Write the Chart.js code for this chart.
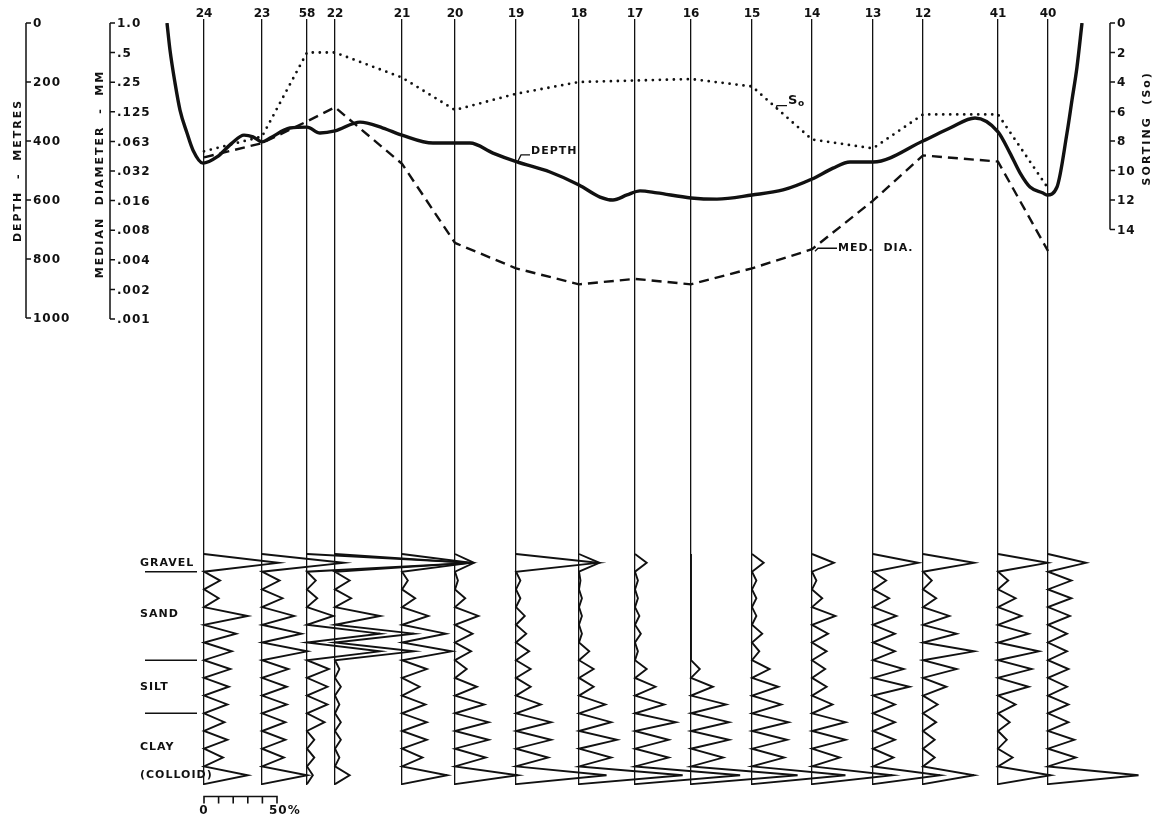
<!DOCTYPE html>
<html lang="en">
<head>
<meta charset="UTF-8">
<title>Traverse - depth, median diameter, sorting</title>
<script src="https://cdn.jsdelivr.net/npm/chart.js"></script>
<style>
  body {
    margin: 0;
    padding: 0;
    background: #fff;
  }
  .wrap {
    position: relative;
    width: 1159px;
    height: 826px;
  }
</style>
</head>
<body>
<div class="wrap">
  <canvas id="traverse" width="1159" height="826"></canvas>
</div>
<script>
// stations along the traverse, as numbered on the section
const stations = ['24', '23', '58', '22', '21', '20', '19', '18', '17', '16', '15', '14', '13', '12', '41', '40'];
// distance along the traverse (arbitrary units, measured off the section)
const stationPos = [0, 5.8, 10.3, 13.1, 19.8, 25.1, 31.2, 37.5, 43.1, 48.7, 54.8, 60.8, 66.9, 71.9, 79.4, 84.4];

// median diameter (mm) and sorting coefficient (So) at each station
const medDia = [0.043, 0.060, 0.100, 0.139, 0.037, 0.0058, 0.0032, 0.0022, 0.0025, 0.0022, 0.0032, 0.0050, 0.0156, 0.045, 0.039, 0.0048];
const sorting = [8.7, 7.7, 2.0, 2.0, 3.7, 5.9, 4.8, 4.0, 3.9, 3.8, 4.3, 7.9, 8.5, 6.2, 6.2, 11.2];

// bottom profile (depth in metres)
const depthPos = [-3.7, -3.4, -2.9, -2.4, -1.7, -1.1, -0.1, 1.3, 2.8, 4.0, 4.9, 5.8, 6.6, 8.6, 10.3, 11.6, 13.1, 15.6, 17.9, 19.8,
  22.9, 26.6, 28.9, 31.3, 34.6, 37.5, 39.6, 40.9, 42.3, 43.6, 45.3, 48.7, 51.3, 54.8, 57.9, 60.8, 62.9, 64.6, 66.9, 71.9,
  74.6, 77.1, 79.4, 80.6, 81.6, 82.6, 83.9, 84.3, 85.3, 86.3, 86.8, 87.3, 87.8];
const depthM = [0, 92, 203, 295, 373, 431, 475, 454, 407, 380, 386, 403, 390, 356, 353, 373, 366, 336, 356, 380,
  407, 407, 441, 471, 505, 549, 590, 600, 583, 569, 576, 593, 597, 583, 566, 529, 492, 471, 471, 400,
  356, 322, 369, 441, 508, 556, 576, 583, 556, 373, 261, 149, 0];

// grain size frequency (%), gravel, 5 sand, 3 silt, 3 clay grades, colloid
const g24 = [51, 11, 10, 30, 22, 19, 18, 17, 16, 14, 16, 13, 30];
const g23 = [56, 12, 14, 22, 27, 31, 18, 17, 17, 16, 16, 15, 31];
const g58 = [113, 6, 7, 18, 50, 50, 15, 14, 14, 12, 5, 5, 4];
const g22 = [92, 10, 11, 31, 54, 54, 3, 4, 3, 4, 4, 3, 10];
const g21 = [47, 4, 9, 18, 30, 34, 17, 12, 16, 17, 17, 14, 31];
const g20 = [13, 2, 7, 16, 12, 11, 8, 15, 20, 23, 23, 21, 43];
const g19 = [56, 3, 3, 6, 7, 9, 10, 10, 17, 24, 24, 22, 62];
const g18 = [14, 1, 2, 2, 2, 7, 10, 10, 18, 22, 26, 22, 71];
const g17 = [8, 2, 2, 3, 4, 2, 8, 14, 20, 28, 23, 23, 72];
const g16 = [0, 0, 0, 0, 0, 0, 6, 15, 24, 26, 26, 22, 73];
const g15 = [8, 3, 3, 3, 7, 5, 12, 18, 20, 25, 24, 22, 64];
const g14 = [15, 3, 7, 16, 11, 10, 9, 10, 14, 23, 23, 19, 55];
const g13 = [31, 9, 11, 16, 15, 15, 21, 25, 15, 15, 15, 14, 46];
const g12 = [35, 6, 9, 18, 23, 35, 23, 16, 10, 9, 8, 8, 35];
const g41 = [34, 7, 12, 16, 21, 28, 23, 21, 12, 8, 6, 10, 36];
const g40 = [26, 16, 16, 15, 13, 13, 14, 13, 14, 14, 18, 19, 62];
const grainPct = [g24, g23, g58, g22, g21, g20, g19, g18, g17, g16, g15, g14, g13, g12, g41, g40];

const gradeLabels = ['GRAVEL', 'SAND', 'SILT', 'CLAY', '(COLLOID)'];
const gradeLabelRow = [0, 2.9, 7.0, 10.4, 12.0];
const gradeBreaks = [0.5, 5.5, 8.5];
const scaleBarPct = [0, 10, 20, 30, 40, 50];

// axis ticks
const depthTicks = [0, 200, 400, 600, 800, 1000];
const diaTicks = [1, 0.5, 0.25, 0.125, 0.0625, 0.03125, 0.015625, 0.0078125, 0.00390625, 0.001953125, 0.0009765625];
const diaTickLabels = ['1.0', '.5', '.25', '.125', '.063', '.032', '.016', '.008', '.004', '.002', '.001'];
const sortTicks = [0, 2, 4, 6, 8, 10, 12, 14];

// layout
const INK = '#111';
const FAMILY = '"DejaVu Sans", Arial, sans-serif';
const PANEL_H = 295;        // px from top of plot to 1000 m / .001 mm
const AREA_H = 762;         // px of the whole plot area
const K = AREA_H / PANEL_H;
const ROW_H = 17.7;         // px per grain size grade
const HIST_TOP = 30.5;      // grade rows between plot top and the gravel row
const PCT_UNIT = 0.146;     // traverse units per percent
const AXIS_X = { depth: -17.8, dia: -9.4, sort: 90.6 };
const TITLE_X = { depth: -18.6, dia: -10.4, sort: 94.3 };
const LABEL_X = -6.4;
const BREAK_X = [-5.9, -0.7];
const TICK = 5;

function zigzag(pos, pct) {
  const pts = [{ x: pos, y: -0.5 }];
  pct.forEach((v, i) => {
    pts.push({ x: pos + v * PCT_UNIT, y: i });
    pts.push({ x: pos, y: i + 0.5 });
  });
  return pts;
}

// horizontal bar with ticks hanging down
function scaleBar(pos) {
  const pts = [];
  scaleBarPct.forEach((p) => {
    const xv = pos + p * PCT_UNIT;
    pts.push({ x: xv, y: 13.2 }, { x: xv, y: 13.6 }, { x: xv, y: 13.2 });
  });
  return pts;
}

const datasets = [];

datasets.push({
  label: 'Depth',
  data: depthPos.map((x, i) => ({ x: x, y: depthM[i] })),
  yAxisID: 'yDepth',
  borderColor: INK,
  borderWidth: 3.4,
  cubicInterpolationMode: 'monotone'
});
datasets.push({
  label: 'Median diameter',
  data: stationPos.map((x, i) => ({ x: x, y: medDia[i] })),
  yAxisID: 'yDia',
  borderColor: INK,
  borderWidth: 2.4,
  borderDash: [10, 6]
});
datasets.push({
  label: 'Sorting',
  data: stationPos.map((x, i) => ({ x: x, y: sorting[i] })),
  yAxisID: 'ySort',
  borderColor: INK,
  borderWidth: 2.8,
  borderDash: [0, 7],
  borderCapStyle: 'round'
});

grainPct.forEach((pct, s) => {
  datasets.push({
    label: 'Grain size ' + stations[s],
    data: zigzag(stationPos[s], pct),
    yAxisID: 'yH',
    borderColor: INK,
    borderWidth: 1.9,
    borderJoinStyle: 'miter'
  });
});

gradeBreaks.forEach((b) => {
  datasets.push({
    label: 'break',
    data: [{ x: BREAK_X[0], y: b }, { x: BREAK_X[1], y: b }],
    yAxisID: 'yH',
    borderColor: INK,
    borderWidth: 1.4
  });
});

datasets.push({
  label: 'scale',
  data: scaleBar(stationPos[0]),
  yAxisID: 'yH',
  borderColor: INK,
  borderWidth: 1.6,
  clip: false
});

function sideAxis(ctx, xp, ys, labels) {
  ctx.beginPath();
  ctx.moveTo(xp, ys[0]);
  ctx.lineTo(xp, ys[ys.length - 1]);
  ys.forEach((y) => {
    ctx.moveTo(xp, y);
    ctx.lineTo(xp + TICK, y);
  });
  ctx.stroke();
  ctx.textAlign = 'left';
  ys.forEach((y, i) => ctx.fillText(labels[i], xp + TICK + 2, y + 1));
}

function vTitle(ctx, text, xp, yp) {
  ctx.save();
  ctx.translate(xp, yp);
  ctx.rotate(-Math.PI / 2);
  ctx.textAlign = 'center';
  ctx.fillText(text, 0, 0);
  ctx.restore();
}

const annotations = {
  id: 'annotations',
  afterDraw(chart) {
    const { ctx, scales } = chart;
    const x = scales.x, yD = scales.yDepth, yM = scales.yDia, yS = scales.ySort, yH = scales.yH;
    ctx.save();
    ctx.fillStyle = INK;
    ctx.strokeStyle = INK;
    ctx.lineWidth = 1.5;
    ctx.textBaseline = 'middle';
    ctx.font = 'bold 12px ' + FAMILY;
    ctx.letterSpacing = '1px';

    // side axes
    sideAxis(ctx, x.getPixelForValue(AXIS_X.depth), depthTicks.map((v) => yD.getPixelForValue(v)), depthTicks.map(String));
    sideAxis(ctx, x.getPixelForValue(AXIS_X.dia), diaTicks.map((v) => yM.getPixelForValue(v)), diaTickLabels);
    sideAxis(ctx, x.getPixelForValue(AXIS_X.sort), sortTicks.map((v) => yS.getPixelForValue(v)), sortTicks.map(String));

    // axis titles
    ctx.font = 'bold 11px ' + FAMILY;
    ctx.letterSpacing = '2px';
    vTitle(ctx, 'DEPTH  -  METRES', x.getPixelForValue(TITLE_X.depth), (yD.getPixelForValue(0) + yD.getPixelForValue(1000)) / 2);
    vTitle(ctx, 'MEDIAN  DIAMETER  -  MM', x.getPixelForValue(TITLE_X.dia), (yM.getPixelForValue(1) + yM.getPixelForValue(0.0009765625)) / 2 + 3);
    vTitle(ctx, 'SORTING  (So)', x.getPixelForValue(TITLE_X.sort), (yS.getPixelForValue(0) + yS.getPixelForValue(14)) / 2 + 2);

    // grain size grade names
    ctx.letterSpacing = '1px';
    ctx.textAlign = 'left';
    gradeLabels.forEach((t, i) => ctx.fillText(t, x.getPixelForValue(LABEL_X), yH.getPixelForValue(gradeLabelRow[i])));

    // scale bar labels
    ctx.font = 'bold 12px ' + FAMILY;
    const barY = yH.getPixelForValue(13.2) + 14;
    ctx.textAlign = 'center';
    ctx.fillText('0', x.getPixelForValue(stationPos[0]), barY);
    ctx.textAlign = 'left';
    ctx.fillText('50%', x.getPixelForValue(stationPos[0] + 50 * PCT_UNIT) - 8, barY);

    // curve call-outs
    ctx.font = 'bold 11px ' + FAMILY;
    ctx.lineWidth = 1.3;
    let ax = x.getPixelForValue(31.3), ay = yD.getPixelForValue(471);
    ctx.beginPath();
    ctx.moveTo(ax + 1, ay - 1);
    ctx.lineTo(ax + 4, ay - 7);
    ctx.lineTo(ax + 13, ay - 7);
    ctx.stroke();
    ctx.fillText('DEPTH', ax + 14, ay - 11);

    ax = x.getPixelForValue(57.2);
    ay = yS.getPixelForValue(5.8);
    ctx.beginPath();
    ctx.moveTo(ax, ay);
    ctx.lineTo(ax + 1, ay - 3);
    ctx.lineTo(ax + 11, ay - 3);
    ctx.stroke();
    ctx.font = 'bold 13px ' + FAMILY;
    ctx.fillText('S', ax + 12, ay - 8);
    ctx.font = 'bold 9px ' + FAMILY;
    ctx.fillText('o', ax + 22, ay - 5);

    ax = x.getPixelForValue(stationPos[11]);
    ay = yM.getPixelForValue(medDia[11]);
    ctx.beginPath();
    ctx.moveTo(ax + 3, ay + 2);
    ctx.lineTo(ax + 6, ay - 1);
    ctx.lineTo(ax + 25, ay - 1);
    ctx.stroke();
    ctx.font = 'bold 11px ' + FAMILY;
    ctx.fillText('MED.  DIA.', ax + 26, ay - 1);
    ctx.restore();
  }
};

const chart = new Chart(document.getElementById('traverse').getContext('2d'), {
  type: 'line',
  data: { datasets: datasets },
  options: {
    responsive: false,
    animation: false,
    events: [],
    layout: { padding: { top: 0, bottom: 826 - 23 - AREA_H, left: 0, right: 0 } },
    elements: {
      point: { radius: 0 },
      line: { fill: false, tension: 0 }
    },
    plugins: {
      legend: { display: false },
      tooltip: { enabled: false }
    },
    scales: {
      x: {
        type: 'linear',
        position: 'top',
        min: -20.4,
        max: 95.5,
        afterFit: (scale) => { scale.height = 23; },
        afterBuildTicks: (scale) => { scale.ticks = stationPos.map((v) => ({ value: v })); },
        border: { display: false },
        grid: { color: INK, lineWidth: 1.3, tickLength: 4, drawOnChartArea: true },
        ticks: {
          autoSkip: false,
          maxRotation: 0,
          minRotation: 0,
          padding: -1,
          color: INK,
          font: { family: FAMILY, size: 12, weight: 'bold', lineHeight: 1 },
          callback: (value, index) => stations[index]
        }
      },
      y: { display: false },
      yDepth: { type: 'linear', display: false, reverse: true, min: 0, max: 1000 * K },
      yDia: { type: 'logarithmic', display: false, min: Math.pow(0.001, K), max: 1 },
      ySort: { type: 'linear', display: false, reverse: true, min: 0, max: 20 * K },
      yH: { type: 'linear', display: false, reverse: true, min: -HIST_TOP, max: -HIST_TOP + AREA_H / ROW_H }
    }
  },
  plugins: [annotations]
});
</script>
</body>
</html>
